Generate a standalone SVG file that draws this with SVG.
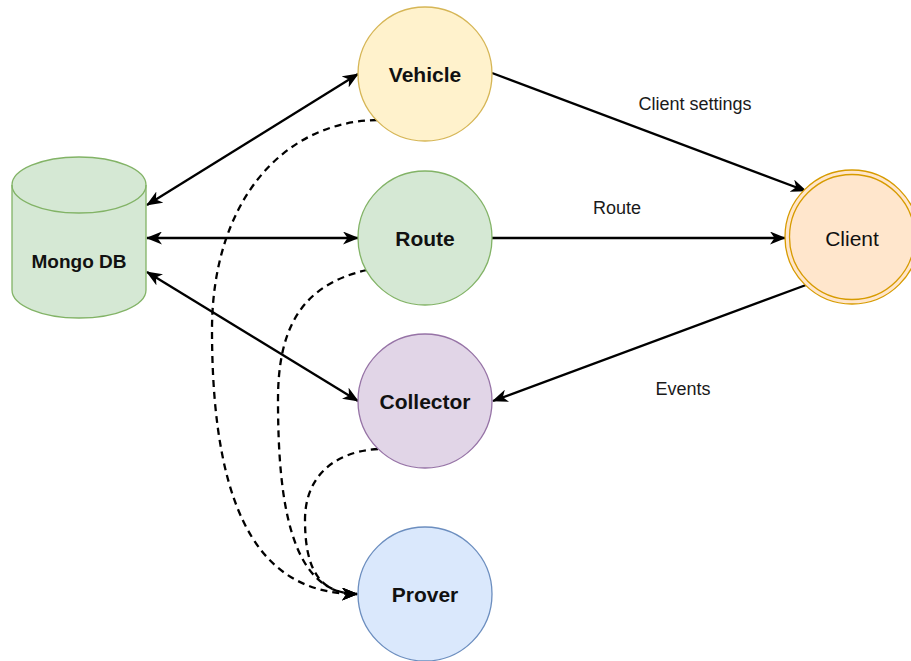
<svg xmlns="http://www.w3.org/2000/svg" width="911" height="661" viewBox="0 0 911 661">
  <defs>
    <marker id="arrow" viewBox="0 0 16 13" refX="15" refY="6.5" markerWidth="16" markerHeight="13" markerUnits="userSpaceOnUse" orient="auto-start-reverse">
      <path d="M0,0 L16,6.5 L0,13 L4.5,6.5 z" fill="#000"/>
    </marker>
  </defs>
  <style>
    .node-label { font-family: "Liberation Sans", Arial, sans-serif; font-size: 21px; font-weight: bold; fill: #111; text-anchor: middle; dominant-baseline: central; }
    .edge-label { font-family: "Liberation Sans", Arial, sans-serif; font-size: 18px; fill: #1a1a1a; text-anchor: middle; }
    .edge { fill: none; stroke: #000; stroke-width: 2.3; }
    .dashed { fill: none; stroke: #000; stroke-width: 2.3; stroke-dasharray: 7 5; }
    .shape { stroke-width: 1.3; }
  </style>

  <rect width="911" height="661" fill="#fff"/>

  <!-- connectors -->
  <g id="connectors">
    <line class="edge" x1="147" y1="205" x2="358" y2="74" marker-start="url(#arrow)" marker-end="url(#arrow)"/>
    <line class="edge" x1="147" y1="238" x2="358" y2="238" marker-start="url(#arrow)" marker-end="url(#arrow)"/>
    <line class="edge" x1="147" y1="272" x2="358" y2="401" marker-start="url(#arrow)" marker-end="url(#arrow)"/>
    <line class="edge" x1="492" y1="73" x2="806" y2="191" marker-end="url(#arrow)"/>
    <line class="edge" x1="492" y1="238" x2="785" y2="238" marker-end="url(#arrow)"/>
    <line class="edge" x1="806" y1="285" x2="493" y2="401" marker-end="url(#arrow)"/>

    <path class="dashed" d="M377,120 C280,122 212,205 212,330 C212,530 270,594 357,594" marker-end="url(#arrow)"/>
    <path class="dashed" d="M367,270 C300,285 278,330 278,400 C278,500 290,594 357,594" marker-end="url(#arrow)"/>
    <path class="dashed" d="M378,449 C330,452 305,480 305,520 C305,570 320,594 357,594" marker-end="url(#arrow)"/>

    <text class="edge-label" x="695" y="110">Client settings</text>
    <text class="edge-label" x="617" y="214">Route</text>
    <text class="edge-label" x="683" y="395">Events</text>
  </g>

  <!-- Mongo DB cylinder -->
  <g id="mongo-db">
    <path class="shape" d="M12,185 L12,290 A67,28 0 0 0 146,290 L146,185 A67,28 0 0 0 12,185 Z" fill="#d5e8d4" stroke="#82b366"/>
    <path class="shape" d="M12,185 A67,28 0 0 0 146,185" fill="none" stroke="#82b366"/>
    <text class="node-label" x="79" y="261" style="font-size:19px">Mongo DB</text>
  </g>

  <g id="vehicle">
    <circle class="shape" cx="425" cy="74" r="67" fill="#fff2cc" stroke="#d6b656"/>
    <text class="node-label" x="425" y="74">Vehicle</text>
  </g>

  <g id="route">
    <circle class="shape" cx="425" cy="238" r="67" fill="#d5e8d4" stroke="#82b366"/>
    <text class="node-label" x="425" y="238">Route</text>
  </g>

  <g id="collector">
    <circle class="shape" cx="425" cy="401" r="67" fill="#e1d5e7" stroke="#9673a6"/>
    <text class="node-label" x="425" y="401">Collector</text>
  </g>

  <g id="prover">
    <circle class="shape" cx="425" cy="594" r="67" fill="#dae8fc" stroke="#6c8ebf"/>
    <text class="node-label" x="425" y="594">Prover</text>
  </g>

  <g id="client">
    <circle class="shape" cx="852" cy="237" r="67" fill="#ffe6cc" stroke="#d79b00"/>
    <circle class="shape" cx="852" cy="237" r="62.5" fill="none" stroke="#d79b00"/>
    <text class="node-label" x="852" y="238" style="font-weight:normal">Client</text>
  </g>
</svg>
